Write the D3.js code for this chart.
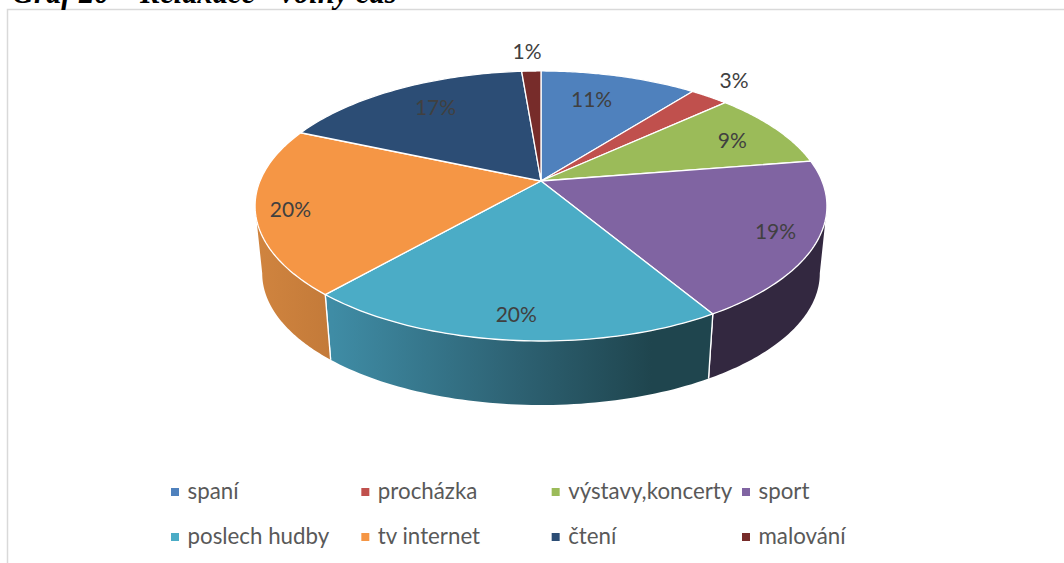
<!DOCTYPE html>
<html><head><meta charset="utf-8">
<script src="https://cdn.jsdelivr.net/npm/d3@7"></script>
<style>html,body{margin:0;padding:0;background:#fff;overflow:hidden}svg{display:block}</style>
</head><body><svg id="c" width="1064" height="563"></svg>
<script>
const categories = ["spaní","procházka","výstavy,koncerty","sport","poslech hudby","tv internet","čtení","malování"];
const values = [10.6,2.6,9.3,18.9,20.1,20.0,17.2,1.3];
const labels = ["11%","3%","9%","19%","20%","20%","17%","1%"];
const colors = ["#4f81bd","#c0504d","#9bbb59","#8064a2","#4bacc6","#f59645","#2c4d75","#772c2a"];
const titleText = "Graf 20 – Relaxace - volný čas";

const svg = d3.select("#c");
const cx=541, cy=181, A=281, B=130.4, P=0.185, ringScale=0.975, depth=68;
const project=(t,s=1,dy=0)=>{const w=1+P*Math.cos(t);
  return [cx+s*A*Math.sin(t)/w, cy+dy-s*B*Math.cos(t)/w];};
const slices=d3.pie().sort(null).value(d=>d)(values);
const color=d3.scaleOrdinal().domain(categories).range(colors);
const line=d3.line();
const samples=(a,b)=>d3.range(0,61).map(i=>a+(b-a)*i/60);

// frame and clipped title
svg.append("rect").attr("x",7.5).attr("y",9.5).attr("width",1100).attr("height",700)
  .attr("fill","#fff").attr("stroke","#d9d9d9").attr("stroke-width",1.5);
svg.append("text").attr("x",12).attr("y",3).text(titleText)
  .attr("font-family","Liberation Serif").attr("font-weight","bold").attr("font-style","italic")
  .attr("font-size",30.5).attr("fill","#000");

// gradients for side walls
const defs=svg.append("defs");
const grad=(id,x1,x2,stops)=>{const g=defs.append("linearGradient").attr("id",id)
  .attr("gradientUnits","userSpaceOnUse").attr("x1",x1).attr("x2",x2).attr("y1",0).attr("y2",0);
  stops.forEach(([o,c])=>g.append("stop").attr("offset",o).attr("stop-color",c));};
grad("sideBlue",332,708,[[0,"#3f8ca5"],[0.5,"#2d6172"],[0.85,"#1f454e"],[1,"#1f454e"]]);
grad("sideOrange",257,332,[[0,"#d0843f"],[1,"#c37a39"]]);
grad("sidePurple",708,826,[[0,"#332840"],[1,"#332840"]]);
const sideFill={3:"url(#sidePurple)",4:"url(#sideBlue)",5:"url(#sideOrange)"};

// side walls: front arc between silhouette angles
const silR=Math.acos(-P), silL=2*Math.PI-silR;
slices.forEach((d,i)=>{
  const a=Math.max(d.startAngle,silR), b=Math.min(d.endAngle,silL);
  if(b<=a) return;
  const top=samples(a,b).map(t=>project(t));
  const bot=samples(a,b).map(t=>project(t,ringScale,depth)).reverse();
  svg.append("path").attr("d",line(top.concat(bot))+"Z")
    .attr("fill",sideFill[i]).attr("stroke","none");
  [d.startAngle,d.endAngle].forEach(t=>{
    if(t>silR+0.01 && t<silL-0.01){
      svg.append("path").attr("d",line([project(t),project(t,ringScale,depth)]))
        .attr("stroke","#fff").attr("stroke-width",1.3).attr("fill","none");
    }});
});

// top faces
slices.forEach((d,i)=>{
  const pts=[[cx,cy]].concat(samples(d.startAngle,d.endAngle).map(t=>project(t)));
  svg.append("path").attr("d",line(pts)+"Z").attr("fill",colors[i])
    .attr("stroke","#fff").attr("stroke-width",1.3).attr("stroke-linejoin","round");
});

// data labels: radial fraction plus a small nudge
const labelRadial=[0.66,1.13,0.74,0.82,0.82,0.80,0.72,1.14];
const labelNudgeX=[-1,3,18,8,1,-22,-3,-3];
const labelNudgeY=[-12,-5,-1,2,3,5,-7,-4];
slices.forEach((d,i)=>{
  const t=(d.startAngle+d.endAngle)/2, w=1+P*Math.cos(t), r=labelRadial[i];
  svg.append("text").text(labels[i])
    .attr("x",cx+r*A*Math.sin(t)/w+labelNudgeX[i]).attr("y",cy-r*B*Math.cos(t)/w+7+labelNudgeY[i])
    .attr("text-anchor","middle").attr("font-family","Lato").attr("font-size",21)
    .attr("fill","#404040");
});

// legend
const legX=d3.scalePoint().domain(d3.range(4)).range([171,742]);
const legY=d3.scalePoint().domain(d3.range(2)).range([492,537]);
const leg=svg.append("g").selectAll("g").data(categories).join("g")
  .attr("transform",(d,i)=>`translate(${legX(i%4)},${legY(Math.floor(i/4))})`);
leg.append("rect").attr("x",0).attr("y",-4).attr("width",8).attr("height",8).attr("fill",d=>color(d));
leg.append("text").text(d=>d).attr("x",16.5).attr("y",7).attr("font-family","Lato")
  .attr("font-size",22.3).attr("fill","#595959");
</script></body></html>
